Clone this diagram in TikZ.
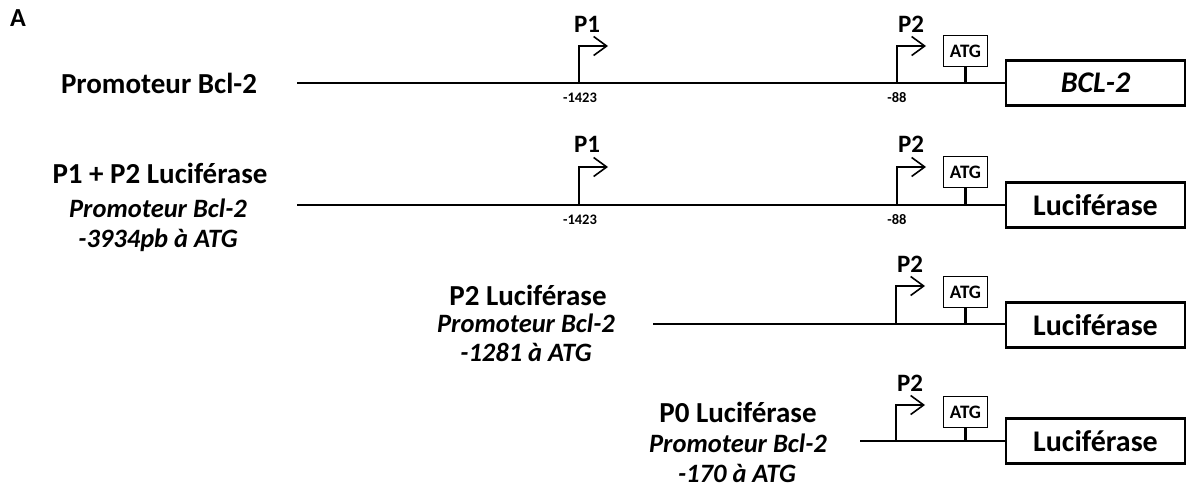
\documentclass[tikz,border=0pt]{standalone}
\usepackage{fontspec}
\setmainfont{Carlito}
\usetikzlibrary{arrows.meta}
\tikzset{
  dna/.style={line width=2.6pt},
  prom/.style={line width=1.8pt, -{Straight Barb[length=13pt,width=19pt,line width=1.6pt]}},
  atgbox/.style={draw, line width=1.8pt, minimum width=44pt, minimum height=31pt, inner sep=0pt, font=\bfseries\fontsize{19}{22}\selectfont},
  stem/.style={line width=3.4pt},
  genebox/.style={draw, line width=2.2pt, minimum width=179pt, minimum height=45pt, inner sep=0pt, font=\bfseries\fontsize{30}{36}\selectfont},
  plabel/.style={font=\bfseries\fontsize{25}{30}\selectfont, inner sep=0pt},
  poslabel/.style={font=\bfseries\fontsize{14.5}{17}\selectfont, inner sep=0pt},
  rowtitle/.style={font=\bfseries\fontsize{29}{35}\selectfont, inner sep=0pt},
  rowsub/.style={font=\bfseries\itshape\fontsize{26.5}{32}\selectfont, inner sep=0pt},
}
\begin{document}
\begin{tikzpicture}[x=1pt,y=-1pt]
\useasboundingbox (0,0) rectangle (1189,490);
\node[font=\bfseries\fontsize{26}{30}\selectfont, inner sep=0pt] (A) at (18,18) {A};

% ---------- Row 1
\node[rowtitle] (t1) at (159,83) {Promoteur Bcl-2};
\coordinate (l1s) at (297,83);
\node[genebox, font=\bfseries\itshape\fontsize{30}{36}\selectfont] (g1) at (1095.5,83) {BCL-2};
\draw[dna] (l1s) -- (g1.west);
\coordinate (p1a) at (579,83); \coordinate (p1b) at (579,46); \coordinate (p1c) at (608,46);
\draw[prom] (p1a) -- (p1b) -- (p1c);
\coordinate (p2a) at (897,83); \coordinate (p2b) at (897,46); \coordinate (p2c) at (926,46);
\draw[prom] (p2a) -- (p2b) -- (p2c);
\node[plabel] (P1r1) at (587,24) {P1};
\node[plabel] (P2r1) at (911,24) {P2};
\node[poslabel] (n1a) at (580,98) {-1423};
\node[poslabel] (n1b) at (897,98) {-88};
\node[atgbox] (atg1) at (965.5,51) {ATG};
\coordinate (s1) at (965.5,83);
\draw[stem] (atg1.south) -- (s1);

% ---------- Row 2
\node[rowtitle] (t2) at (160,173) {P1 + P2 Luciférase};
\node[rowsub] (u2a) at (158,208) {Promoteur Bcl-2};
\node[rowsub] (u2b) at (158,240) {-3934pb à ATG};
\coordinate (l2s) at (297,205);
\node[genebox] (g2) at (1095.5,205) {Luciférase};
\draw[dna] (l2s) -- (g2.west);
\coordinate (q1a) at (579,205); \coordinate (q1b) at (579,167); \coordinate (q1c) at (608,167);
\draw[prom] (q1a) -- (q1b) -- (q1c);
\coordinate (q2a) at (897,205); \coordinate (q2b) at (897,167); \coordinate (q2c) at (926,167);
\draw[prom] (q2a) -- (q2b) -- (q2c);
\node[plabel] (P1r2) at (587,144) {P1};
\node[plabel] (P2r2) at (911,144) {P2};
\node[poslabel] (n2a) at (580,220) {-1423};
\node[poslabel] (n2b) at (897,220) {-88};
\node[atgbox] (atg2) at (965.5,172) {ATG};
\coordinate (s2) at (965.5,205);
\draw[stem] (atg2.south) -- (s2);

% ---------- Row 3
\node[rowtitle] (t3) at (528,295) {P2 Luciférase};
\node[rowsub] (u3a) at (526,323) {Promoteur Bcl-2};
\node[rowsub] (u3b) at (526,352) {-1281 à ATG};
\coordinate (l3s) at (653,324);
\node[genebox] (g3) at (1095.5,325) {Luciférase};
\draw[dna] (l3s) -- (l3s -| g3.west);
\coordinate (r2a) at (896,324); \coordinate (r2b) at (896,286); \coordinate (r2c) at (925,286);
\draw[prom] (r2a) -- (r2b) -- (r2c);
\node[plabel] (P2r3) at (910,264) {P2};
\node[atgbox] (atg3) at (965.5,292) {ATG};
\coordinate (s3) at (965.5,324);
\draw[stem] (atg3.south) -- (s3);

% ---------- Row 4
\node[rowtitle] (t4) at (738,412) {P0 Luciférase};
\node[rowsub] (u4a) at (738,443) {Promoteur Bcl-2};
\node[rowsub] (u4b) at (737,473) {-170 à ATG};
\coordinate (l4s) at (860,441);
\node[genebox] (g4) at (1095.5,441) {Luciférase};
\draw[dna] (l4s) -- (g4.west);
\coordinate (w2a) at (896,441); \coordinate (w2b) at (896,405); \coordinate (w2c) at (925,405);
\draw[prom] (w2a) -- (w2b) -- (w2c);
\node[plabel] (P2r4) at (910,383) {P2};
\node[atgbox] (atg4) at (965.5,412) {ATG};
\coordinate (s4) at (965.5,441);
\draw[stem] (atg4.south) -- (s4);
\end{tikzpicture}
\end{document}
